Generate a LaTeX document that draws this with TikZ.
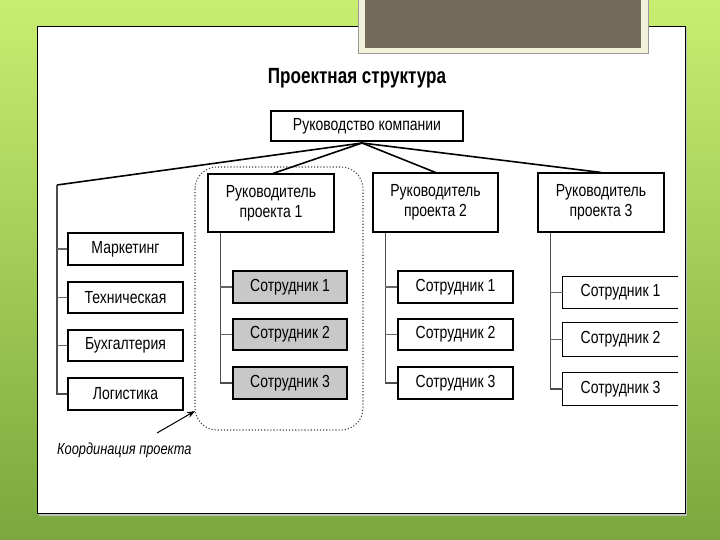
\documentclass[tikz,border=0pt]{standalone}
\usepackage{fontspec}
\setmainfont{Liberation Sans}
\newfontfamily\nf{Liberation Sans}[FakeStretch=0.8]
\usetikzlibrary{arrows.meta,calc}
\definecolor{bgtop}{RGB}{200,238,112}
\definecolor{bgbot}{RGB}{122,168,62}
\definecolor{slate}{RGB}{116,106,90}
\definecolor{cream}{RGB}{242,242,218}
\definecolor{empfill}{RGB}{200,200,200}
\tikzset{
  box/.style={draw=black, line width=1.1pt, fill=white, inner sep=0pt, font=\nf\fontsize{17.5}{20}\selectfont, align=center},
  openbox/.style={inner sep=0pt, font=\nf\fontsize{17.5}{20}\selectfont},
  conn/.style={line width=1.6pt, black},
  stub/.style={line width=1.4pt, black!60},
  vline/.style={line width=1.1pt, black!70},
}
\begin{document}
\begin{tikzpicture}[x=1pt,y=-1pt]
\useasboundingbox (0,0) rectangle (720,540);
% background
\shade[top color=bgtop, bottom color=bgbot] (0,0) rectangle (720,540);
% panel
\fill[black!25] (39,28) rectangle (687,516);
\draw[fill=white, line width=0.9pt] (37,26) rectangle (685,513);
% top decorative box
\draw[fill=cream, draw=black!40, line width=0.6pt] (358,-2) rectangle (648,53);
\fill[slate] (365,-2) rectangle (641,48);
% title
\node[font=\nf\bfseries\fontsize{22}{22}\selectfont, xscale=0.97] (title) at (357,78) {Проектная структура};
% main boxes
\node[box, minimum width=192, minimum height=30] (top) at (367,126) {Руководство компании};
\node[box, minimum width=126, minimum height=58] (pm1) at (271,203) {Руководитель\\проекта 1};
\node[box, minimum width=125, minimum height=59] (pm2) at (435.5,202.5) {Руководитель\\проекта 2};
\node[box, minimum width=126, minimum height=59] (pm3) at (601,202.5) {Руководитель\\проекта 3};
% left column
\node[box, minimum width=115, minimum height=32] (mark) at (125.5,249) {Маркетинг};
\node[box, minimum width=115, minimum height=31] (tech) at (125.5,297.5) {Техническая};
\node[box, minimum width=115, minimum height=31] (buh) at (125.5,345.5) {Бухгалтерия};
\node[box, minimum width=115, minimum height=32] (log) at (125.5,394) {Логистика};
% project 1 employees (gray)
\node[box, fill=empfill, minimum width=114, minimum height=32] (a1) at (290,287) {Сотрудник 1};
\node[box, fill=empfill, minimum width=114, minimum height=31] (a2) at (290,334.5) {Сотрудник 2};
\node[box, fill=empfill, minimum width=114, minimum height=32] (a3) at (290,383) {Сотрудник 3};
% project 2 employees
\node[box, minimum width=115, minimum height=32] (b1) at (455.5,287) {Сотрудник 1};
\node[box, minimum width=115, minimum height=31] (b2) at (455.5,334.5) {Сотрудник 2};
\node[box, minimum width=115, minimum height=32] (b3) at (455.5,383) {Сотрудник 3};
% project 3 employees (open on the right)
\node[openbox, minimum width=115, minimum height=31] (c1) at (620.5,292.5) {Сотрудник 1};
\node[openbox, minimum width=115, minimum height=33] (c2) at (620.5,339.5) {Сотрудник 2};
\node[openbox, minimum width=115, minimum height=32] (c3) at (620.5,389) {Сотрудник 3};
\foreach \n in {c1,c2,c3}{
  \draw[line width=1.1pt] (\n.north east) -- (\n.north west) -- (\n.south west) -- (\n.south east);
}
% coordination frame
\draw[dotted, line width=1.1pt, black!75, rounded corners=22pt] (195,167) rectangle (363,430);
% hub connectors
\coordinate (hub) at (362,143);
\coordinate (lc) at (57,185);
\draw[conn] (lc) -- (hub);
\draw[conn] (hub) -- ($(pm1.north)+(2,0)$);
\draw[conn] (hub) -- (pm2.north);
\draw[conn] (hub) -- (pm3.north);
% left column connectors
\draw[vline] (lc) |- (log.west);
\foreach \n in {mark,tech,buh}{ \draw[stub] (\n.west) -- (\n.west -| lc); }
% project verticals
\coordinate (v1) at ($(pm1.south west)+(13,0)$);
\coordinate (v2) at ($(pm2.south west)+(13,0)$);
\coordinate (v3) at ($(pm3.south west)+(13,0)$);
\draw[vline] (v1) |- (a3.west);
\draw[vline] (v2) |- (b3.west);
\draw[vline] (v3) |- (c3.west);
\foreach \n in {a1,a2}{ \draw[stub] (\n.west) -- (\n.west -| v1); }
\foreach \n in {b1,b2}{ \draw[stub] (\n.west) -- (\n.west -| v2); }
\foreach \n in {c1,c2}{ \draw[stub] (\n.west) -- (\n.west -| v3); }
% coordination label and arrow
\node[anchor=west, inner sep=0pt, font=\nf\itshape\fontsize{16}{16}\selectfont] (coord) at (57,450) {Координация проекта};
\coordinate (ctail) at (157,433);
\coordinate (chead) at (195,411);
\draw[line width=1pt, -{Stealth[length=8pt,width=6pt]}] (ctail) -- (chead);
\end{tikzpicture}
\end{document}
